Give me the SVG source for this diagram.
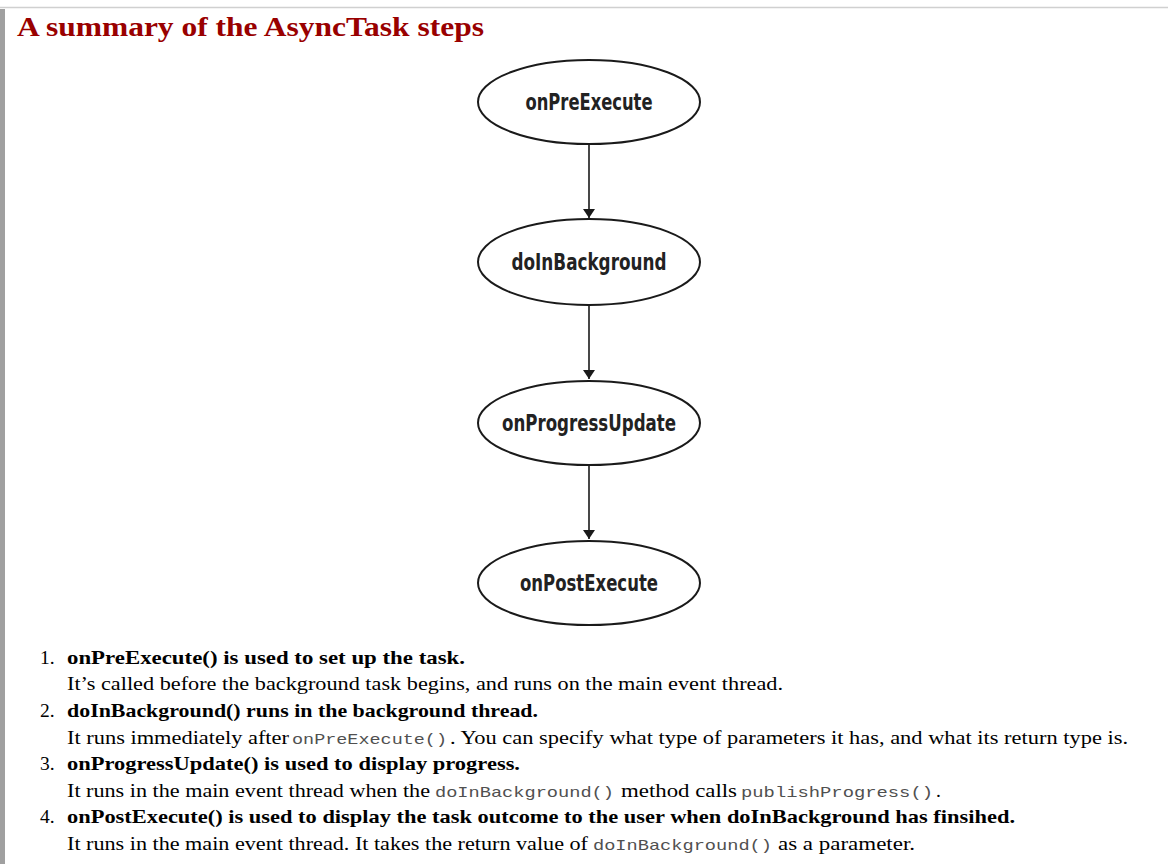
<svg xmlns="http://www.w3.org/2000/svg" width="1168" height="864" viewBox="0 0 1168 864">
<style>
.title{font-family:"Liberation Serif","Times New Roman",serif;font-weight:bold;font-size:28px;fill:#990000}
.node ellipse{fill:#ffffff;stroke:#1a1a1a;stroke-width:2}
.node text{font-family:"DejaVu Sans Condensed","DejaVu Sans",sans-serif;font-weight:bold;font-size:23px;fill:#222222;text-anchor:middle}
.conn line{stroke:#1a1a1a;stroke-width:1.6}
.t{font-family:"Liberation Serif","Times New Roman",serif;font-size:19.5px;fill:#000000}
.b{font-weight:bold}
.code{font-family:"Liberation Mono","Courier New",monospace;font-size:15px;fill:#505050}
</style>
<defs>
<marker id="arr" markerWidth="12" markerHeight="12" refX="9" refY="6" orient="auto" markerUnits="userSpaceOnUse">
<path d="M0,0 L9,6 L0,12 Z" fill="#1a1a1a"/>
</marker>
</defs>
<rect x="0" y="0" width="1168" height="864" fill="#ffffff"/>
<line x1="0" y1="7.5" x2="1168" y2="7.5" stroke="#d0d0d0" stroke-width="1.5"/>
<rect x="0" y="9" width="5" height="855" fill="#a0a0a0"/>
<text class="title" x="17" y="36" textLength="467" lengthAdjust="spacingAndGlyphs">A summary of the AsyncTask steps</text>

<g class="conn">
<line x1="589" y1="145" x2="589" y2="218" marker-end="url(#arr)"/>
<line x1="589" y1="306" x2="589" y2="379" marker-end="url(#arr)"/>
<line x1="589" y1="466" x2="589" y2="539" marker-end="url(#arr)"/>
</g>

<g id="onPreExecute" class="node">
<ellipse cx="589" cy="102" rx="111" ry="42"/>
<text x="589" y="110" textLength="127" lengthAdjust="spacingAndGlyphs">onPreExecute</text>
</g>
<g id="doInBackground" class="node">
<ellipse cx="589" cy="262" rx="111" ry="43"/>
<text x="589" y="270" textLength="155" lengthAdjust="spacingAndGlyphs">doInBackground</text>
</g>
<g id="onProgressUpdate" class="node">
<ellipse cx="589" cy="423" rx="111" ry="42"/>
<text x="589" y="431" textLength="174" lengthAdjust="spacingAndGlyphs">onProgressUpdate</text>
</g>
<g id="onPostExecute" class="node">
<ellipse cx="589" cy="583" rx="111" ry="42"/>
<text x="589" y="591" textLength="138" lengthAdjust="spacingAndGlyphs">onPostExecute</text>
</g>

<g id="list">
<text class="t" x="40" y="664">1.</text>
<text class="t b" x="67" y="664" textLength="398" lengthAdjust="spacingAndGlyphs">onPreExecute() is used to set up the task.</text>
<text class="t" x="67" y="690" textLength="716" lengthAdjust="spacingAndGlyphs">It’s called before the background task begins, and runs on the main event thread.</text>

<text class="t" x="40" y="717">2.</text>
<text class="t b" x="67" y="717" textLength="471" lengthAdjust="spacingAndGlyphs">doInBackground() runs in the background thread.</text>
<text class="t" x="67" y="744" textLength="222" lengthAdjust="spacingAndGlyphs">It runs immediately after</text>
<text class="code" x="292" y="744" textLength="155" lengthAdjust="spacingAndGlyphs">onPreExecute()</text>
<text class="t" x="450" y="744" textLength="678" lengthAdjust="spacingAndGlyphs">. You can specify what type of parameters it has, and what its return type is.</text>

<text class="t" x="40" y="770">3.</text>
<text class="t b" x="67" y="770" textLength="453" lengthAdjust="spacingAndGlyphs">onProgressUpdate() is used to display progress.</text>
<text class="t" x="67" y="797" textLength="363" lengthAdjust="spacingAndGlyphs">It runs in the main event thread when the</text>
<text class="code" x="435" y="797" textLength="179" lengthAdjust="spacingAndGlyphs">doInBackground()</text>
<text class="t" x="621" y="797" textLength="116" lengthAdjust="spacingAndGlyphs">method calls</text>
<text class="code" x="741" y="797" textLength="192" lengthAdjust="spacingAndGlyphs">publishProgress()</text>
<text class="t" x="936" y="797">.</text>

<text class="t" x="40" y="823">4.</text>
<text class="t b" x="67" y="823" textLength="948" lengthAdjust="spacingAndGlyphs">onPostExecute() is used to display the task outcome to the user when doInBackground has finsihed.</text>
<text class="t" x="67" y="850" textLength="521" lengthAdjust="spacingAndGlyphs">It runs in the main event thread. It takes the return value of</text>
<text class="code" x="593" y="850" textLength="179" lengthAdjust="spacingAndGlyphs">doInBackground()</text>
<text class="t" x="778" y="850" textLength="137" lengthAdjust="spacingAndGlyphs">as a parameter.</text>
</g>
</svg>
